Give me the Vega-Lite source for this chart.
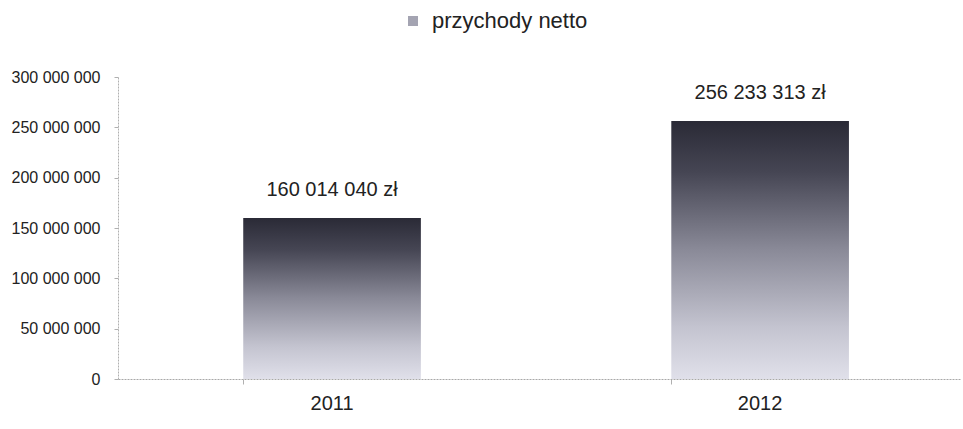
{
  "$schema": "https://vega.github.io/schema/vega-lite/v6.json",
  "width": 842,
  "height": 302,
  "autosize": {"type": "none"},
  "padding": {"left": 118, "top": 77, "right": 3, "bottom": 50},
  "background": "white",
  "config": {
    "view": {"stroke": null},
    "font": "Liberation Sans"
  },
  "data": {
    "values": [
      {"rok": "2011", "przychody": 160014040, "etykieta": "160 014 040 zł", "seria": "przychody netto"},
      {"rok": "2012", "przychody": 256233313, "etykieta": "256 233 313 zł", "seria": "przychody netto"}
    ]
  },
  "encoding": {
    "x": {
      "field": "rok",
      "type": "nominal",
      "scale": {"paddingInner": 0.585, "paddingOuter": 0.276, "align": 0.53},
      "axis": {
        "title": null,
        "labelAngle": 0,
        "labelFontSize": 20,
        "labelColor": "#222222",
        "labelPadding": 9,
        "domainColor": "#a8a8a8",
        "domainDash": [2, 1],
        "tickColor": "#b0b0b0",
        "tickSize": 5,
        "bandPosition": 0,
        "grid": false
      }
    }
  },
  "layer": [
    {
      "mark": {"type": "point", "shape": "square", "filled": true},
      "encoding": {
        "y": {"datum": 50000000, "type": "quantitative"},
        "color": {
          "field": "seria",
          "type": "nominal",
          "scale": {"range": ["#a4a4b2"]},
          "legend": {
            "title": null,
            "orient": "none",
            "legendX": 284,
            "legendY": -67,
            "symbolType": "square",
            "symbolSize": 100,
            "symbolOpacity": 1,
            "labelFontSize": 22,
            "labelColor": "#222222",
            "labelOffset": 8
          }
        }
      }
    },
    {
      "mark": {
        "type": "bar",
        "color": {"gradient": "linear", "x1": 0, "y1": 0, "x2": 0, "y2": 1,
          "stops": [
            {"offset": 0, "color": "#2a2a36"},
            {"offset": 0.2, "color": "#464654"},
            {"offset": 0.5, "color": "#8a8a98"},
            {"offset": 0.8, "color": "#c4c4d0"},
            {"offset": 1, "color": "#e0e0ea"}
          ]}
      },
      "encoding": {
        "y": {
          "field": "przychody",
          "type": "quantitative",
          "scale": {"domain": [0, 300000000], "nice": false},
          "axis": {
            "title": null,
            "values": [0, 50000000, 100000000, 150000000, 200000000, 250000000, 300000000],
            "labelExpr": "replace(format(datum.value, ','), /,/g, ' ')",
            "labelFontSize": 16,
            "labelColor": "#222222",
            "labelPadding": 14,
            "domainColor": "#b0b0b0",
            "domainDash": [2, 1],
            "tickColor": "#b0b0b0",
            "tickSize": 4,
            "gridColor": "#d4d4d4",
            "gridDash": [3, 4]
          }
        }
      }
    },
    {
      "mark": {"type": "text", "baseline": "bottom", "dy": -18, "fontSize": 20, "color": "#222222"},
      "encoding": {
        "y": {"field": "przychody", "type": "quantitative"},
        "text": {"field": "etykieta"}
      }
    }
  ]
}
